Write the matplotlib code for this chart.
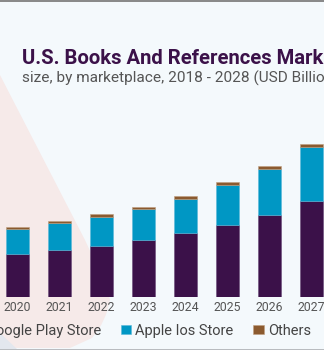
import numpy as np
import matplotlib.pyplot as plt
from matplotlib.patches import Rectangle, PathPatch, Polygon
from matplotlib.path import Path

# data (USD billion)
years = [2020, 2021, 2022, 2023, 2024, 2025, 2026, 2027]
google_play = [1.08, 1.18, 1.28, 1.43, 1.60, 1.80, 2.05, 2.40]
apple_ios = [0.61, 0.66, 0.72, 0.76, 0.84, 1.01, 1.15, 1.36]
others = [0.07, 0.07, 0.07, 0.07, 0.08, 0.07, 0.07, 0.07]

labels = ['Google Play Store', 'Apple Ios Store', 'Others']
colors = ['#3b1149', '#0097c4', '#8b5a2f']

W, H = 324, 351
bg = '#f4f9fc'

plt.rcParams['font.family'] = ['Roboto', 'DejaVu Sans']

fig = plt.figure(figsize=(W / 100, H / 100), dpi=100)
fig.patch.set_facecolor(bg)


def fx(px):
    return px / W


def fy(py):
    return 1 - py / H


# pink decoration behind the bars
verts = [(0, 75), (85, 240), (103, 278), (110, 300), (106, 322),
         (92, 338), (70, 348), (0, 348), (0, 75)]
codes = [Path.MOVETO, Path.LINETO, Path.CURVE3, Path.CURVE3, Path.CURVE3,
         Path.CURVE3, Path.LINETO, Path.LINETO, Path.CLOSEPOLY]
path = Path([(fx(a), fy(b)) for a, b in verts], codes)
fig.patches.append(PathPatch(path, facecolor='#f6eae9', edgecolor='none',
                             transform=fig.transFigure, zorder=-2))
fig.patches.append(Polygon([(0, fy(333)), (fx(17), fy(349)), (0, fy(349))],
                           closed=True, facecolor='#e3e7ee', edgecolor='none',
                           transform=fig.transFigure, zorder=-1))
# frame lines
fig.patches.append(Rectangle((0, fy(1.5)), 1, 1.5 / H, facecolor='#8a8a8a',
                             edgecolor='none', transform=fig.transFigure, zorder=1))
fig.patches.append(Rectangle((0, fy(351)), 1, 2 / H, facecolor='white',
                             edgecolor='none', transform=fig.transFigure, zorder=1))
fig.patches.append(Rectangle((0, fy(350)), 1, 1.2 / H, facecolor='#b9bcc0',
                             edgecolor='none', transform=fig.transFigure, zorder=1))

# axes: 42 px per year, baseline at y=297 px
px_per_unit = 40
ax = fig.add_axes([0, fy(297), 1, (297 - 100) / H])
ax.set_zorder(2)
ax.patch.set_alpha(0)
ax.set_xlim(2020 - 17.5 / 42, 2027 + (W - 311.5) / 42)
ax.set_ylim(0, 197 / px_per_unit)

x = np.array(years)
w = 23 / 42
g = np.array(google_play)
a = np.array(apple_ios)
o = np.array(others)
b1 = ax.bar(x, g, w, color=colors[0], edgecolor='#6a4a78', linewidth=0.4, label=labels[0])
b2 = ax.bar(x, a, w, bottom=g, color=colors[1], edgecolor='#5ab8d8', linewidth=0.4, label=labels[1])
b3 = ax.bar(x, o, w, bottom=g + a, color=colors[2], edgecolor='#c0a080', linewidth=0.4, label=labels[2])

for s in ax.spines.values():
    s.set_visible(False)
ax.set_yticks([])
ax.set_xticks(years)
ax.set_xticklabels([str(y) for y in years])
ax.tick_params(axis='x', length=0, pad=3, labelsize=8.8, labelcolor='#555555')

# title block
fig.text(fx(22), fy(64), 'U.S. Books And References Market', fontsize=14.6,
         fontweight='bold', color='#3b1149', va='baseline', zorder=3)
fig.text(fx(22), fy(83), 'size, by marketplace, 2018 - 2028 (USD Billion)',
         fontsize=11.1, color='#555555', va='baseline', zorder=3)

leg = fig.legend(handles=[b1, b2, b3], labels=labels, ncol=3, frameon=False,
                 loc='center right', bbox_to_anchor=(fx(311), fy(331)),
                 fontsize=10.5, labelcolor='#444444', handlelength=0.7,
                 handleheight=0.6, handletextpad=0.3, columnspacing=1.35,
                 borderpad=0, borderaxespad=0)
leg.set_zorder(3)

fig.savefig('out.png', dpi=100, facecolor=bg)
